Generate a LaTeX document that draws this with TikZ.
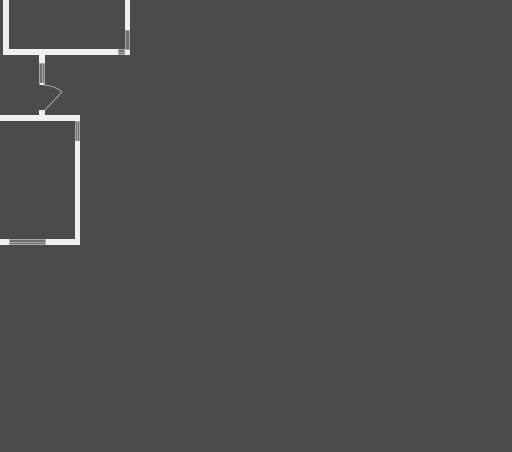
\documentclass[tikz,border=0pt]{standalone}
\definecolor{bgc}{HTML}{4B4B4B}
\definecolor{wallc}{HTML}{F0F0F0}
\definecolor{winc}{HTML}{707070}
\definecolor{winl}{HTML}{A8A8A8}
\tikzset{
  wall/.style={fill=wallc,draw=none},
  win/.style={fill=winc,draw=winl,line width=0.5pt},
  doorline/.style={draw=winl,line width=0.8pt,line join=round}
}
\begin{document}
\begin{tikzpicture}[x=1pt,y=-1pt]
\useasboundingbox (0,0) rectangle (512,452);
\fill[bgc] (0,0) rectangle (512,452);
% upper room
\fill[wall] (3,0) rectangle (9,55);
\fill[wall] (3,49) rectangle (118,55);
\fill[wall] (124.5,49) rectangle (130,55);
\fill[wall] (124.5,0) rectangle (130,30);
\draw[win] (124.8,30) rectangle (129.7,49);
\draw[win] (118.5,49.5) rectangle (124.5,54.5);
\draw[winl,line width=0.4pt] (118.5,52) -- (124.5,52);
% stub and door
\fill[wall] (39,55) rectangle (45,63);
\draw[win] (39.5,63) rectangle (44.5,84);
\draw[winl,line width=0.3pt] (42,63) -- (42,84);
\fill[wall] (39.5,83.5) rectangle (44,85.5);
\draw[doorline] (43,85) .. controls (50,85) and (57,87.5) .. (62,92) -- (44,111);
\fill[wall] (39,110) rectangle (45,116);
% lower room
\fill[wall] (0,115) rectangle (80,121);
\draw[win] (74.8,121) rectangle (79.7,141);
\draw[winl,line width=0.3pt] (77.3,121) -- (77.3,141);
\fill[wall] (74.5,141) rectangle (80,245);
\fill[wall] (0,239) rectangle (9,245);
\fill[wall] (45,239) rectangle (80,245);
\draw[win] (9,239.5) rectangle (45,244.5);
\draw[winl,line width=0.3pt] (9,242) -- (45,242);
\end{tikzpicture}
\end{document}
